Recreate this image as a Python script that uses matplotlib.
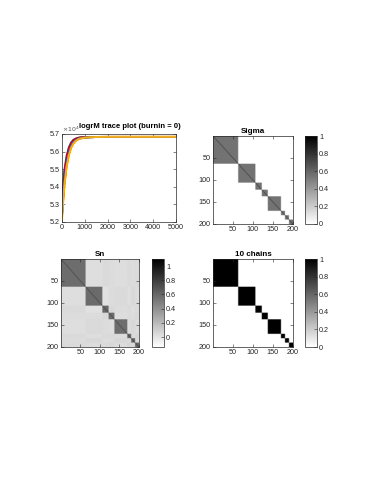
import numpy as np
import matplotlib
matplotlib.use("Agg")
import matplotlib.pyplot as plt

plt.rcParams['font.family'] = ['Liberation Sans', 'DejaVu Sans']

W, H = 379, 491

# ---------------- data ----------------
iters = [1, 50, 100, 200, 300, 400, 500, 600, 700, 800, 1000, 1200, 1500, 2000, 3000, 5000]
chain1 = [5.25, 5.35, 5.43, 5.538, 5.597, 5.634, 5.655, 5.667, 5.673, 5.677, 5.681, 5.682, 5.683, 5.683, 5.683, 5.683]
chain2 = [5.29, 5.39, 5.47, 5.562, 5.615, 5.646, 5.663, 5.672, 5.677, 5.680, 5.682, 5.683, 5.683, 5.683, 5.683, 5.683]
chain3 = [5.23, 5.33, 5.42, 5.525, 5.588, 5.627, 5.650, 5.663, 5.671, 5.676, 5.680, 5.682, 5.683, 5.683, 5.683, 5.683]
chain4 = [5.26, 5.36, 5.44, 5.545, 5.600, 5.636, 5.656, 5.668, 5.674, 5.678, 5.681, 5.682, 5.683, 5.683, 5.683, 5.683]
chain5 = [5.25, 5.35, 5.435, 5.540, 5.598, 5.635, 5.655, 5.667, 5.673, 5.677, 5.681, 5.682, 5.683, 5.683, 5.683, 5.683]
chain6 = [5.26, 5.355, 5.44, 5.542, 5.600, 5.636, 5.656, 5.667, 5.674, 5.678, 5.681, 5.682, 5.683, 5.683, 5.683, 5.683]
chain7 = [5.31, 5.41, 5.49, 5.575, 5.624, 5.652, 5.667, 5.674, 5.678, 5.681, 5.682, 5.683, 5.683, 5.683, 5.683, 5.683]
chain8 = [5.24, 5.34, 5.425, 5.530, 5.592, 5.630, 5.652, 5.665, 5.672, 5.676, 5.680, 5.682, 5.683, 5.683, 5.683, 5.683]
chain9 = [5.24, 5.33, 5.41, 5.520, 5.585, 5.625, 5.648, 5.662, 5.670, 5.675, 5.680, 5.682, 5.683, 5.684, 5.684, 5.684]
chain10 = [5.22, 5.31, 5.40, 5.510, 5.578, 5.620, 5.645, 5.660, 5.669, 5.674, 5.679, 5.681, 5.683, 5.684, 5.684, 5.684]
chains = [chain1, chain2, chain3, chain4, chain5, chain6, chain7, chain8, chain9, chain10]

# cluster sizes (200 items)
cluster_sizes = [63, 43, 16, 15, 33, 10, 10, 10]
sigma_within = 0.55
sn_within = [0.57, 0.58, 0.60, 0.58, 0.57, 0.60, 0.62, 0.60]
sn_between = [
    [0.00, 0.02, 0.04, 0.03, 0.02, 0.04, 0.03, 0.04],
    [0.02, 0.00, 0.01, 0.03, 0.04, 0.02, 0.05, 0.03],
    [0.04, 0.01, 0.00, 0.05, 0.03, 0.04, 0.02, 0.04],
    [0.03, 0.03, 0.05, 0.00, 0.02, 0.04, 0.03, 0.05],
    [0.02, 0.04, 0.03, 0.02, 0.00, 0.03, 0.05, 0.03],
    [0.04, 0.02, 0.04, 0.04, 0.03, 0.00, 0.04, 0.06],
    [0.03, 0.05, 0.02, 0.03, 0.05, 0.04, 0.00, 0.04],
    [0.04, 0.03, 0.04, 0.05, 0.03, 0.06, 0.04, 0.00],
]

matlab_colors = ['#0072BD', '#D95319', '#EDB120', '#7E2F8E', '#77AC30', '#4DBEEE', '#A2142F']

# ---------------- build matrices ----------------
labels = np.repeat(np.arange(len(cluster_sizes)), cluster_sizes)
n = len(labels)
same = labels[:, None] == labels[None, :]
Sigma = np.where(same, sigma_within, 0.0)
np.fill_diagonal(Sigma, 1.0)
Sn = np.array(sn_between)[labels][:, labels]
Sn = np.where(same, np.array(sn_within)[labels][:, None], Sn)
np.fill_diagonal(Sn, 1.0)
Chains10 = same.astype(float)

def box(l, t, r, b):
    return [l / W, 1 - b / H, (r - l) / W, (b - t) / H]

fig = plt.figure(figsize=(W / 100, H / 100), dpi=100)
fs = 5.2
tc = '#262626'

def style(ax):
    ax.tick_params(direction='in', length=2, width=0.4, labelsize=fs, top=True, right=True,
                   pad=1.5, colors=tc, labelcolor=tc)
    for s in ax.spines.values():
        s.set_linewidth(0.5)
        s.set_color(tc)

# trace plot
ax = fig.add_axes(box(62, 134, 176, 222))
for i, c in enumerate(chains):
    ax.plot(iters, c, color=matlab_colors[i % 7], lw=1.4)
ax.set_xlim(0, 5000)
ax.set_ylim(5.2, 5.7)
ax.set_xticks([0, 1000, 2000, 3000, 4000, 5000])
ax.set_yticks([5.2, 5.3, 5.4, 5.5, 5.6, 5.7])
ax.set_yticklabels(['5.2', '5.3', '5.4', '5.5', '5.6', '5.7'])
style(ax)
ax.text(0.0, 1.005, r'$\times10^4$', transform=ax.transAxes, fontsize=4.5, color='#555555',
        va='bottom', ha='left')
fig.text(130 / W, 1 - 130 / H, 'logrM trace plot (burnin = 0)', fontsize=5.5, fontweight='bold',
         ha='center', va='bottom', color='black')

def matplot(M, axbox, cbox, title, vmin, vmax):
    ax = fig.add_axes(box(*axbox))
    im = ax.imshow(M, cmap='gray_r', vmin=vmin, vmax=vmax, aspect='auto',
                   extent=(0.5, n + 0.5, n + 0.5, 0.5), interpolation='bilinear')
    ax.set_xticks([50, 100, 150, 200])
    ax.set_yticks([50, 100, 150, 200])
    style(ax)
    ax.set_title(title, fontsize=5.8, fontweight='bold', pad=2)
    cax = fig.add_axes(box(*cbox))
    cb = fig.colorbar(im, cax=cax, ticks=[0, 0.2, 0.4, 0.6, 0.8, 1])
    cb.ax.set_yticklabels(['0', '0.2', '0.4', '0.6', '0.8', '1'])
    cb.ax.tick_params(direction='in', length=2, width=0.4, labelsize=fs, pad=1.5,
                      colors=tc, labelcolor=tc)
    cb.outline.set_linewidth(0.5)
    cb.outline.set_edgecolor(tc)

matplot(Sigma, (213, 136, 293, 224), (305, 136, 317, 224), 'Sigma', 0, 1)
matplot(Sn, (61, 259, 139, 347), (152, 259, 164, 347), 'Sn', -0.14, 1.1)
matplot(Chains10, (213, 259, 293, 347), (305, 259, 317, 347), '10 chains', 0, 1)

fig.savefig('out.png', dpi=100)
